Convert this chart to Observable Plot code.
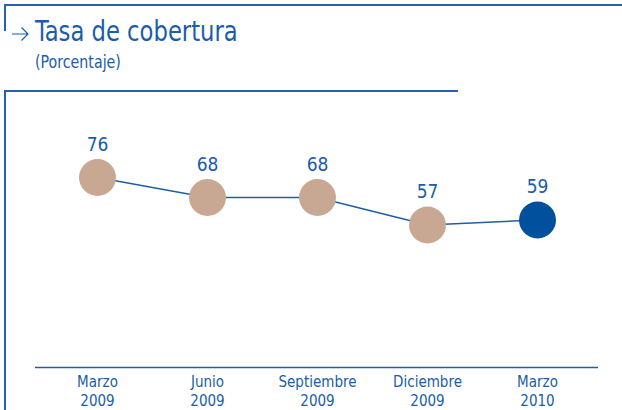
<!DOCTYPE html>
<html>
<head>
<meta charset="utf-8">
<script src="https://cdn.jsdelivr.net/npm/d3@7"></script>
<script src="https://cdn.jsdelivr.net/npm/@observablehq/plot@0.6"></script>
<style>
  html, body { margin: 0; padding: 0; background: #fff; }
  #wrap { position: relative; width: 622px; height: 410px; overflow: hidden;
          font-family: "Liberation Sans Narrow", "DejaVu Sans Condensed", "Roboto Condensed", sans-serif; color: #1b5da8; }
  #chart { position: absolute; left: 0; top: 0; }
  .ln { position: absolute; background: #2662aa; }
  #arrow { position: absolute; left: 0; top: 0; }
  #title { position: absolute; left: 35px; top: 14px; font-size: 29px; white-space: nowrap; transform: scaleX(0.87); transform-origin: left top; }
  #subtitle { position: absolute; left: 35px; top: 52px; font-size: 17px; white-space: nowrap; transform: scaleX(0.93); transform-origin: left top; }
</style>
</head>
<body>
<div id="wrap">
  <div id="chart"></div>
  <div class="ln" style="left:4px;top:4px;width:618px;height:1.5px"></div>
  <div class="ln" style="left:4px;top:4px;width:1.5px;height:27px"></div>
  <div class="ln" style="left:4px;top:90px;width:454px;height:1.5px"></div>
  <div class="ln" style="left:4px;top:90px;width:1.5px;height:320px"></div>
  <svg id="arrow" width="34" height="46"><path d="M12,34H28M21.5,27.5L28,34L21.5,40.5" fill="none" stroke="#1b5da8" stroke-width="1.2"/></svg>
  <div id="title">Tasa de cobertura</div>
  <div id="subtitle">(Porcentaje)</div>
</div>
<script>
const periods = ["Marzo\n2009", "Junio\n2009", "Septiembre\n2009", "Diciembre\n2009", "Marzo\n2010"];
const values = [76, 68, 68, 57, 59];
const latest = [false, false, false, false, true];

const data = periods.map((p, i) => ({period: p, value: values[i], latest: latest[i]}));
const blue = "#1f5fa8";

const chart = Plot.plot({
  width: 622,
  height: 410,
  marginLeft: 35,
  marginRight: 24,
  marginTop: 117,
  marginBottom: 43,
  style: {background: "transparent", fontFamily: "'Liberation Sans Narrow', 'DejaVu Sans Condensed', sans-serif"},
  x: {type: "point", domain: periods, padding: 0.555, axis: null},
  y: {domain: [0, 100], axis: null},
  marks: [
    Plot.ruleY([0], {stroke: blue, strokeWidth: 1.5}),
    Plot.line(data, {x: "period", y: "value", stroke: blue, strokeWidth: 1.5}),
    Plot.dot(data.filter(d => !d.latest), {x: "period", y: "value", r: 18.5, fill: "#c9a893"}),
    Plot.dot(data.filter(d => d.latest), {x: "period", y: "value", r: 18.5, fill: "#00509e"}),
    Plot.text(data, {x: "period", y: "value", text: d => String(d.value), dy: -33, fill: "#1b5da8", fontSize: 19}),
    Plot.axisX({tickSize: 0, tickPadding: 6, fontSize: 15, lineHeight: 1.27, label: null, color: "#1b5da8", fill: "#1b5da8"})
  ]
});
document.getElementById("chart").appendChild(chart);
</script>
</body>
</html>
